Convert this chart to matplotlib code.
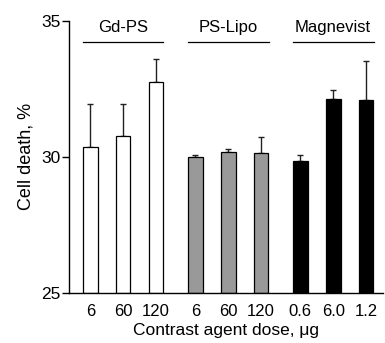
import numpy as np
import matplotlib
matplotlib.use("Agg")
import matplotlib.pyplot as plt

plt.rcParams['font.family'] = ['Liberation Sans', 'DejaVu Sans']

# data
groups = ["Gd-PS", "PS-Lipo", "Magnevist"]
dose_labels = ["6", "60", "120", "6", "60", "120", "0.6", "6.0", "1.2"]
values = [30.37, 30.77, 32.76, 30.0, 30.18, 30.16, 29.85, 32.13, 32.1]
err_top = [31.95, 31.95, 33.6, 30.07, 30.3, 30.74, 30.07, 32.46, 33.53]
colors = ["white"] * 3 + ["#999999"] * 3 + ["black"] * 3

# bar positions: three per group, a wider gap between groups
x = np.concatenate([np.arange(3) + g * 3.2 for g in range(3)])
yerr_up = np.array(err_top) - np.array(values)
yerr = [np.zeros(len(values)), yerr_up]

fig = plt.figure(figsize=(3.85, 3.43), dpi=100)
ax = fig.add_axes([0.179, 0.146, 0.816, 0.793])

ax.bar(x, np.array(values) - 25, bottom=25, width=0.45, color=colors,
       edgecolor="black", linewidth=0.9, zorder=2)
ax.errorbar(x, values, yerr=yerr, fmt="none", ecolor="#222222",
            elinewidth=1.0, capsize=2.5, capthick=1.0, zorder=1)

ax.set_ylim(25, 35)
ax.set_xlim(-0.65, 8.92)
ax.set_yticks([25, 30, 35])
ax.set_xticks(x)
ax.set_xticklabels(dose_labels)
ax.tick_params(axis="x", length=0, labelsize=12, pad=8)
ax.tick_params(axis="y", length=5, width=1, labelsize=12.5, pad=1)
for side in ["top", "right"]:
    ax.spines[side].set_visible(False)
ax.spines["left"].set_linewidth(1)
ax.spines["bottom"].set_linewidth(1)

ax.set_ylabel("Cell death, %", fontsize=13, labelpad=5)
ax.set_xlabel("Contrast agent dose, \u03bcg", fontsize=12.5, labelpad=3)

# group headers with a line under each
for g, name in enumerate(groups):
    x0 = x[g * 3] - 0.23
    x1 = x[g * 3 + 2] + 0.23
    ax.plot([x0, x1], [34.23, 34.23], color="black", linewidth=0.9,
            clip_on=False)
    ax.text((x0 + x1) / 2, 34.74, name, ha="center", va="center",
            fontsize=12, clip_on=False)

fig.savefig("out.png", dpi=100)
